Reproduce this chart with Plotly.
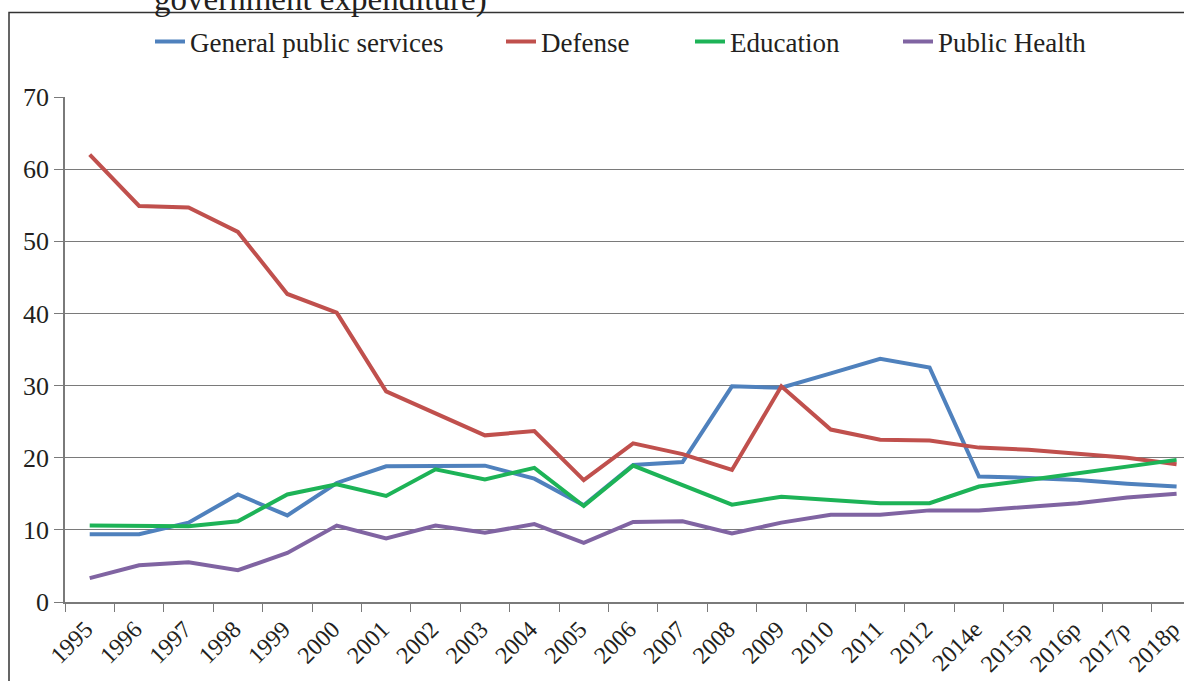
import plotly.graph_objects as go

# Fiscal years on the category axis (e = estimate, p = projection)
years = ["1995", "1996", "1997", "1998", "1999", "2000", "2001", "2002", "2003",
         "2004", "2005", "2006", "2007", "2008", "2009", "2010", "2011", "2012",
         "2014e", "2015p", "2016p", "2017p", "2018p"]

# Share of total government expenditure (%)
general_public_services = [9.4, 9.4, 11.0, 14.9, 12.0, 16.5, 18.8, 18.8, 18.9,
                           17.1, 13.4, 19.0, 19.4, 29.9, 29.7, 31.7, 33.7, 32.5,
                           17.4, 17.2, 16.9, 16.4, 16.0]
defense = [62.0, 54.9, 54.7, 51.3, 42.7, 40.1, 29.2, 26.2, 23.1,
           23.7, 16.9, 22.0, 20.5, 18.3, 29.9, 23.9, 22.5, 22.4,
           21.4, 21.1, 20.6, 20.0, 19.1]
education = [10.6, 10.5, 10.5, 11.2, 14.9, 16.3, 14.7, 18.4, 17.0,
             18.6, 13.3, 18.9, 16.2, 13.5, 14.6, 14.2, 13.7, 13.7,
             16.0, 16.9, 17.8, 18.8, 19.7]
public_health = [3.3, 5.1, 5.5, 4.4, 6.8, 10.6, 8.8, 10.6, 9.6,
                 10.8, 8.2, 11.1, 11.2, 9.5, 11.0, 12.1, 12.1, 12.7,
                 12.7, 13.2, 13.7, 14.5, 15.0]

series_names = ["General public services", "Defense", "Education", "Public Health"]
series_values = [general_public_services, defense, education, public_health]
series_colors = ["#4F81BD", "#C0504D", "#1DB357", "#8064A2"]

FONT = "'Liberation Serif', serif"
TEXT = "#231F20"
GRID = "#7A7A7A"

# plot area geometry in pixels (used to place frame, caption and legend keys)
W, H = 1184, 681
L, R, T, B = 65, 0, 97, 79
pw, ph = W - L - R, H - T - B


def px_x(x):
    return (x - L) / pw


def px_y(y):
    return (H - B - y) / ph


# left edge (px) of each legend entry's label
legend_text_left = [190, 541, 730, 938]

fig = go.Figure()
legends = {}
for i, (name, values, color) in enumerate(zip(series_names, series_values, series_colors)):
    key = "legend" if i == 0 else f"legend{i + 1}"
    fig.add_trace(go.Scatter(
        x=years, y=values, name=name, mode="lines",
        line=dict(color=color, width=4), legend=key,
    ))
    legends[key] = dict(
        orientation="h", x=px_x(legend_text_left[i] - 40), xanchor="left",
        y=px_y(42), yanchor="middle",
        font=dict(family=FONT, size=27, color=TEXT),
        bgcolor="rgba(0,0,0,0)", borderwidth=0,
    )

fig.update_layout(
    width=W, height=H, autosize=False,
    margin=dict(l=L, r=R, t=T, b=B, pad=0),
    paper_bgcolor="white", plot_bgcolor="white",
    font=dict(family=FONT, color=TEXT, size=26),
    showlegend=True,
    **legends,
    xaxis=dict(
        type="category", categoryorder="array", categoryarray=years,
        range=[-0.5, 22.15], tickson="boundaries",
        ticks="outside", ticklen=8, tickwidth=1.3, tickcolor=GRID,
        showline=True, linecolor=GRID, linewidth=1.5,
        showgrid=False, zeroline=False, tickangle=-45,
        ticklabelstandoff=2, ticklabelshift=-4,
        tickfont=dict(family=FONT, size=24, color=TEXT),
        automargin=False,
    ),
    yaxis=dict(
        range=[0, 70], dtick=10, tick0=0,
        ticks="outside", ticklen=9, tickwidth=1.3, tickcolor=GRID,
        showline=True, linecolor=GRID, linewidth=1.5,
        showgrid=True, gridcolor=GRID, gridwidth=1.3, zeroline=False,
        tickfont=dict(family=FONT, size=26, color=TEXT),
        automargin=False,
    ),
    shapes=[dict(
        type="rect", xref="paper", yref="paper", layer="above",
        x0=px_x(9), x1=px_x(1250), y0=px_y(760), y1=px_y(12.5),
        line=dict(color="#333333", width=1.5), fillcolor="rgba(0,0,0,0)",
    )],
    annotations=[dict(
        text="government expenditure)", xref="paper", yref="paper",
        x=px_x(320), xanchor="center", y=px_y(20), yanchor="bottom",
        showarrow=False, font=dict(family=FONT, size=33, color=TEXT),
    )],
)

fig.write_html("out.html")
